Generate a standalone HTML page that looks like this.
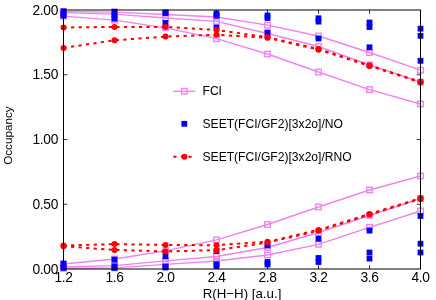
<!DOCTYPE html>
<html><head><meta charset="utf-8"><title>Occupancy</title>
<style>html,body{margin:0;padding:0;background:#fff;}body{width:436px;height:300px;position:relative;overflow:hidden;font-family:"Liberation Sans",sans-serif;}</style></head>
<body>
<svg width="436" height="300" viewBox="0 0 436 300" style="position:absolute;left:0;top:0;will-change:transform">
<rect width="436" height="300" fill="#fff"/>
<g stroke="#000" stroke-width="0.8" fill="none">
<line x1="114.5" y1="10.0" x2="114.5" y2="13.8"/>
<line x1="114.5" y1="269.0" x2="114.5" y2="265.2"/>
<line x1="165.5" y1="10.0" x2="165.5" y2="13.8"/>
<line x1="165.5" y1="269.0" x2="165.5" y2="265.2"/>
<line x1="216.5" y1="10.0" x2="216.5" y2="13.8"/>
<line x1="216.5" y1="269.0" x2="216.5" y2="265.2"/>
<line x1="267.5" y1="10.0" x2="267.5" y2="13.8"/>
<line x1="267.5" y1="269.0" x2="267.5" y2="265.2"/>
<line x1="318.5" y1="10.0" x2="318.5" y2="13.8"/>
<line x1="318.5" y1="269.0" x2="318.5" y2="265.2"/>
<line x1="369.5" y1="10.0" x2="369.5" y2="13.8"/>
<line x1="369.5" y1="269.0" x2="369.5" y2="265.2"/>
<line x1="63.5" y1="204.25" x2="67.3" y2="204.25"/>
<line x1="420.5" y1="204.25" x2="416.7" y2="204.25"/>
<line x1="63.5" y1="139.50" x2="67.3" y2="139.50"/>
<line x1="420.5" y1="139.50" x2="416.7" y2="139.50"/>
<line x1="63.5" y1="74.75" x2="67.3" y2="74.75"/>
<line x1="420.5" y1="74.75" x2="416.7" y2="74.75"/>
</g>
<polyline points="63.5,11.6 114.5,12.1 165.5,14.5 216.5,17 267.5,25.2 318.5,36 369.5,52.5 420.5,70.2" fill="none" stroke="#ee82ee" stroke-width="1.35"/>
<polyline points="63.5,12.7 114.5,14.2 165.5,18 216.5,21.3 267.5,33.5 318.5,46.5 369.5,65 420.5,82" fill="none" stroke="#ee82ee" stroke-width="1.35"/>
<polyline points="63.5,16.1 114.5,20.2 165.5,27.8 216.5,38.6 267.5,54 318.5,72 369.5,89.6 420.5,104" fill="none" stroke="#ee82ee" stroke-width="1.35"/>
<polyline points="63.5,264 114.5,259 165.5,250.8 216.5,239.9 267.5,224.5 318.5,207 369.5,190 420.5,176" fill="none" stroke="#ee82ee" stroke-width="1.35"/>
<polyline points="63.5,267 114.5,265.6 165.5,260.8 216.5,256.5 267.5,247.5 318.5,232.5 369.5,215.5 420.5,198.5" fill="none" stroke="#ee82ee" stroke-width="1.35"/>
<polyline points="63.5,268.3 114.5,267.8 165.5,264.3 216.5,261 267.5,255 318.5,244.3 369.5,227.3 420.5,211" fill="none" stroke="#ee82ee" stroke-width="1.35"/>
<rect x="60.75" y="8.85" width="5.5" height="5.5" fill="none" stroke="#ee82ee" stroke-width="1.35"/>
<rect x="111.75" y="9.35" width="5.5" height="5.5" fill="none" stroke="#ee82ee" stroke-width="1.35"/>
<rect x="162.75" y="11.75" width="5.5" height="5.5" fill="none" stroke="#ee82ee" stroke-width="1.35"/>
<rect x="213.75" y="14.25" width="5.5" height="5.5" fill="none" stroke="#ee82ee" stroke-width="1.35"/>
<rect x="264.75" y="22.45" width="5.5" height="5.5" fill="none" stroke="#ee82ee" stroke-width="1.35"/>
<rect x="315.75" y="33.25" width="5.5" height="5.5" fill="none" stroke="#ee82ee" stroke-width="1.35"/>
<rect x="366.75" y="49.75" width="5.5" height="5.5" fill="none" stroke="#ee82ee" stroke-width="1.35"/>
<rect x="417.75" y="67.45" width="5.5" height="5.5" fill="none" stroke="#ee82ee" stroke-width="1.35"/>
<rect x="60.75" y="9.95" width="5.5" height="5.5" fill="none" stroke="#ee82ee" stroke-width="1.35"/>
<rect x="111.75" y="11.45" width="5.5" height="5.5" fill="none" stroke="#ee82ee" stroke-width="1.35"/>
<rect x="162.75" y="15.25" width="5.5" height="5.5" fill="none" stroke="#ee82ee" stroke-width="1.35"/>
<rect x="213.75" y="18.55" width="5.5" height="5.5" fill="none" stroke="#ee82ee" stroke-width="1.35"/>
<rect x="264.75" y="30.75" width="5.5" height="5.5" fill="none" stroke="#ee82ee" stroke-width="1.35"/>
<rect x="315.75" y="43.75" width="5.5" height="5.5" fill="none" stroke="#ee82ee" stroke-width="1.35"/>
<rect x="366.75" y="62.25" width="5.5" height="5.5" fill="none" stroke="#ee82ee" stroke-width="1.35"/>
<rect x="417.75" y="79.25" width="5.5" height="5.5" fill="none" stroke="#ee82ee" stroke-width="1.35"/>
<rect x="60.75" y="13.35" width="5.5" height="5.5" fill="none" stroke="#ee82ee" stroke-width="1.35"/>
<rect x="111.75" y="17.45" width="5.5" height="5.5" fill="none" stroke="#ee82ee" stroke-width="1.35"/>
<rect x="162.75" y="25.05" width="5.5" height="5.5" fill="none" stroke="#ee82ee" stroke-width="1.35"/>
<rect x="213.75" y="35.85" width="5.5" height="5.5" fill="none" stroke="#ee82ee" stroke-width="1.35"/>
<rect x="264.75" y="51.25" width="5.5" height="5.5" fill="none" stroke="#ee82ee" stroke-width="1.35"/>
<rect x="315.75" y="69.25" width="5.5" height="5.5" fill="none" stroke="#ee82ee" stroke-width="1.35"/>
<rect x="366.75" y="86.85" width="5.5" height="5.5" fill="none" stroke="#ee82ee" stroke-width="1.35"/>
<rect x="417.75" y="101.25" width="5.5" height="5.5" fill="none" stroke="#ee82ee" stroke-width="1.35"/>
<rect x="60.75" y="261.25" width="5.5" height="5.5" fill="none" stroke="#ee82ee" stroke-width="1.35"/>
<rect x="111.75" y="256.25" width="5.5" height="5.5" fill="none" stroke="#ee82ee" stroke-width="1.35"/>
<rect x="162.75" y="248.05" width="5.5" height="5.5" fill="none" stroke="#ee82ee" stroke-width="1.35"/>
<rect x="213.75" y="237.15" width="5.5" height="5.5" fill="none" stroke="#ee82ee" stroke-width="1.35"/>
<rect x="264.75" y="221.75" width="5.5" height="5.5" fill="none" stroke="#ee82ee" stroke-width="1.35"/>
<rect x="315.75" y="204.25" width="5.5" height="5.5" fill="none" stroke="#ee82ee" stroke-width="1.35"/>
<rect x="366.75" y="187.25" width="5.5" height="5.5" fill="none" stroke="#ee82ee" stroke-width="1.35"/>
<rect x="417.75" y="173.25" width="5.5" height="5.5" fill="none" stroke="#ee82ee" stroke-width="1.35"/>
<rect x="60.75" y="264.25" width="5.5" height="5.5" fill="none" stroke="#ee82ee" stroke-width="1.35"/>
<rect x="111.75" y="262.85" width="5.5" height="5.5" fill="none" stroke="#ee82ee" stroke-width="1.35"/>
<rect x="162.75" y="258.05" width="5.5" height="5.5" fill="none" stroke="#ee82ee" stroke-width="1.35"/>
<rect x="213.75" y="253.75" width="5.5" height="5.5" fill="none" stroke="#ee82ee" stroke-width="1.35"/>
<rect x="264.75" y="244.75" width="5.5" height="5.5" fill="none" stroke="#ee82ee" stroke-width="1.35"/>
<rect x="315.75" y="229.75" width="5.5" height="5.5" fill="none" stroke="#ee82ee" stroke-width="1.35"/>
<rect x="366.75" y="212.75" width="5.5" height="5.5" fill="none" stroke="#ee82ee" stroke-width="1.35"/>
<rect x="417.75" y="195.75" width="5.5" height="5.5" fill="none" stroke="#ee82ee" stroke-width="1.35"/>
<rect x="60.75" y="265.55" width="5.5" height="5.5" fill="none" stroke="#ee82ee" stroke-width="1.35"/>
<rect x="111.75" y="265.05" width="5.5" height="5.5" fill="none" stroke="#ee82ee" stroke-width="1.35"/>
<rect x="162.75" y="261.55" width="5.5" height="5.5" fill="none" stroke="#ee82ee" stroke-width="1.35"/>
<rect x="213.75" y="258.25" width="5.5" height="5.5" fill="none" stroke="#ee82ee" stroke-width="1.35"/>
<rect x="264.75" y="252.25" width="5.5" height="5.5" fill="none" stroke="#ee82ee" stroke-width="1.35"/>
<rect x="315.75" y="241.55" width="5.5" height="5.5" fill="none" stroke="#ee82ee" stroke-width="1.35"/>
<rect x="366.75" y="224.55" width="5.5" height="5.5" fill="none" stroke="#ee82ee" stroke-width="1.35"/>
<rect x="417.75" y="208.25" width="5.5" height="5.5" fill="none" stroke="#ee82ee" stroke-width="1.35"/>
<rect x="60.6" y="8.40" width="5.8" height="5.8" fill="#0000ff"/>
<rect x="60.6" y="10.60" width="5.8" height="5.8" fill="#0000ff"/>
<rect x="60.6" y="12.70" width="5.8" height="5.8" fill="#0000ff"/>
<rect x="111.6" y="8.80" width="5.8" height="5.8" fill="#0000ff"/>
<rect x="111.6" y="12.10" width="5.8" height="5.8" fill="#0000ff"/>
<rect x="111.6" y="15.80" width="5.8" height="5.8" fill="#0000ff"/>
<rect x="162.6" y="9.50" width="5.8" height="5.8" fill="#0000ff"/>
<rect x="162.6" y="10.30" width="5.8" height="5.8" fill="#0000ff"/>
<rect x="162.6" y="20.00" width="5.8" height="5.8" fill="#0000ff"/>
<rect x="213.6" y="10.50" width="5.8" height="5.8" fill="#0000ff"/>
<rect x="213.6" y="12.70" width="5.8" height="5.8" fill="#0000ff"/>
<rect x="213.6" y="24.60" width="5.8" height="5.8" fill="#0000ff"/>
<rect x="264.6" y="12.60" width="5.8" height="5.8" fill="#0000ff"/>
<rect x="264.6" y="15.10" width="5.8" height="5.8" fill="#0000ff"/>
<rect x="264.6" y="29.60" width="5.8" height="5.8" fill="#0000ff"/>
<rect x="315.6" y="15.40" width="5.8" height="5.8" fill="#0000ff"/>
<rect x="315.6" y="18.70" width="5.8" height="5.8" fill="#0000ff"/>
<rect x="315.6" y="35.60" width="5.8" height="5.8" fill="#0000ff"/>
<rect x="366.6" y="19.60" width="5.8" height="5.8" fill="#0000ff"/>
<rect x="366.6" y="24.10" width="5.8" height="5.8" fill="#0000ff"/>
<rect x="366.6" y="44.40" width="5.8" height="5.8" fill="#0000ff"/>
<rect x="417.6" y="25.80" width="5.8" height="5.8" fill="#0000ff"/>
<rect x="417.6" y="32.90" width="5.8" height="5.8" fill="#0000ff"/>
<rect x="417.6" y="57.90" width="5.8" height="5.8" fill="#0000ff"/>
<rect x="60.6" y="260.70" width="5.8" height="5.8" fill="#0000ff"/>
<rect x="60.6" y="263.60" width="5.8" height="5.8" fill="#0000ff"/>
<rect x="60.6" y="265.00" width="5.8" height="5.8" fill="#0000ff"/>
<rect x="111.6" y="256.70" width="5.8" height="5.8" fill="#0000ff"/>
<rect x="111.6" y="263.40" width="5.8" height="5.8" fill="#0000ff"/>
<rect x="111.6" y="265.00" width="5.8" height="5.8" fill="#0000ff"/>
<rect x="162.6" y="253.50" width="5.8" height="5.8" fill="#0000ff"/>
<rect x="162.6" y="263.70" width="5.8" height="5.8" fill="#0000ff"/>
<rect x="162.6" y="264.60" width="5.8" height="5.8" fill="#0000ff"/>
<rect x="213.6" y="248.10" width="5.8" height="5.8" fill="#0000ff"/>
<rect x="213.6" y="261.30" width="5.8" height="5.8" fill="#0000ff"/>
<rect x="213.6" y="263.10" width="5.8" height="5.8" fill="#0000ff"/>
<rect x="264.6" y="242.60" width="5.8" height="5.8" fill="#0000ff"/>
<rect x="264.6" y="259.10" width="5.8" height="5.8" fill="#0000ff"/>
<rect x="264.6" y="261.60" width="5.8" height="5.8" fill="#0000ff"/>
<rect x="315.6" y="235.80" width="5.8" height="5.8" fill="#0000ff"/>
<rect x="315.6" y="255.10" width="5.8" height="5.8" fill="#0000ff"/>
<rect x="315.6" y="259.10" width="5.8" height="5.8" fill="#0000ff"/>
<rect x="366.6" y="227.70" width="5.8" height="5.8" fill="#0000ff"/>
<rect x="366.6" y="249.60" width="5.8" height="5.8" fill="#0000ff"/>
<rect x="366.6" y="255.70" width="5.8" height="5.8" fill="#0000ff"/>
<rect x="417.6" y="213.10" width="5.8" height="5.8" fill="#0000ff"/>
<rect x="417.6" y="240.80" width="5.8" height="5.8" fill="#0000ff"/>
<rect x="417.6" y="249.60" width="5.8" height="5.8" fill="#0000ff"/>
<polyline points="63.5,27.5 114.5,26.9 165.5,26.9 216.5,30 267.5,37.2 318.5,49.0 369.5,65.3 420.5,81.8" fill="none" stroke="#ff0000" stroke-width="2" stroke-dasharray="3.2 4.35"/>
<polyline points="63.5,47.9 114.5,40.3 165.5,36.6 216.5,34.7 267.5,37.8 318.5,49.7 369.5,65.9 420.5,82.4" fill="none" stroke="#ff0000" stroke-width="2" stroke-dasharray="3.2 4.35"/>
<polyline points="63.5,245.5 114.5,244.1 165.5,245 216.5,245.2 267.5,241.8 318.5,229.9 369.5,213.9 420.5,198.1" fill="none" stroke="#ff0000" stroke-width="2" stroke-dasharray="3.2 4.35"/>
<polyline points="63.5,246.3 114.5,249.9 165.5,251.4 216.5,250.2 267.5,242.6 318.5,230.7 369.5,214.7 420.5,198.9" fill="none" stroke="#ff0000" stroke-width="2" stroke-dasharray="3.2 4.35"/>
<circle cx="63.5" cy="27.5" r="3.0" fill="#ff0000"/>
<circle cx="114.5" cy="26.9" r="3.0" fill="#ff0000"/>
<circle cx="165.5" cy="26.9" r="3.0" fill="#ff0000"/>
<circle cx="216.5" cy="30" r="3.0" fill="#ff0000"/>
<circle cx="267.5" cy="37.2" r="3.0" fill="#ff0000"/>
<circle cx="318.5" cy="49.0" r="3.0" fill="#ff0000"/>
<circle cx="369.5" cy="65.3" r="3.0" fill="#ff0000"/>
<circle cx="420.5" cy="81.8" r="3.0" fill="#ff0000"/>
<circle cx="63.5" cy="47.9" r="3.0" fill="#ff0000"/>
<circle cx="114.5" cy="40.3" r="3.0" fill="#ff0000"/>
<circle cx="165.5" cy="36.6" r="3.0" fill="#ff0000"/>
<circle cx="216.5" cy="34.7" r="3.0" fill="#ff0000"/>
<circle cx="267.5" cy="37.8" r="3.0" fill="#ff0000"/>
<circle cx="318.5" cy="49.7" r="3.0" fill="#ff0000"/>
<circle cx="369.5" cy="65.9" r="3.0" fill="#ff0000"/>
<circle cx="420.5" cy="82.4" r="3.0" fill="#ff0000"/>
<circle cx="63.5" cy="245.5" r="3.0" fill="#ff0000"/>
<circle cx="114.5" cy="244.1" r="3.0" fill="#ff0000"/>
<circle cx="165.5" cy="245" r="3.0" fill="#ff0000"/>
<circle cx="216.5" cy="245.2" r="3.0" fill="#ff0000"/>
<circle cx="267.5" cy="241.8" r="3.0" fill="#ff0000"/>
<circle cx="318.5" cy="229.9" r="3.0" fill="#ff0000"/>
<circle cx="369.5" cy="213.9" r="3.0" fill="#ff0000"/>
<circle cx="420.5" cy="198.1" r="3.0" fill="#ff0000"/>
<circle cx="63.5" cy="246.3" r="3.0" fill="#ff0000"/>
<circle cx="114.5" cy="249.9" r="3.0" fill="#ff0000"/>
<circle cx="165.5" cy="251.4" r="3.0" fill="#ff0000"/>
<circle cx="216.5" cy="250.2" r="3.0" fill="#ff0000"/>
<circle cx="267.5" cy="242.6" r="3.0" fill="#ff0000"/>
<circle cx="318.5" cy="230.7" r="3.0" fill="#ff0000"/>
<circle cx="369.5" cy="214.7" r="3.0" fill="#ff0000"/>
<circle cx="420.5" cy="198.9" r="3.0" fill="#ff0000"/>
<g stroke="#000" stroke-width="1" fill="none">
<line x1="63.5" y1="10.0" x2="63.5" y2="269.0"/>
<line x1="420.5" y1="10.0" x2="420.5" y2="269.0"/>
<line x1="63.0" y1="10.0" x2="421.0" y2="10.0"/>
<line x1="63.0" y1="269.0" x2="421.0" y2="269.0"/>
</g>
<line x1="173.2" y1="91.2" x2="195.2" y2="91.2" stroke="#ee82ee" stroke-width="1.35"/>
<rect x="181.6" y="88.5" width="5.5" height="5.5" fill="none" stroke="#ee82ee" stroke-width="1.35"/>
<rect x="181.4" y="120.89999999999999" width="5.8" height="5.8" fill="#0000ff"/>
<line x1="173.3" y1="156.8" x2="195.4" y2="156.8" stroke="#ff0000" stroke-width="2" stroke-dasharray="3.2 4.35"/>
<circle cx="184.4" cy="156.8" r="3.0" fill="#ff0000"/>
<g font-family="Liberation Sans, sans-serif" fill="#000">
<g font-size="12.1px">
<text x="202.5" y="95.1">FCI</text>
<text x="202.5" y="128">SEET(FCI/GF2)[3x2o]/NO</text>
<text x="202.5" y="161">SEET(FCI/GF2)[3x2o]/RNO</text>
</g>
<g font-size="13.8px" letter-spacing="-0.35" text-anchor="end">
<text x="58" y="273.60">0.00</text>
<text x="58" y="208.85">0.50</text>
<text x="58" y="144.10">1.00</text>
<text x="58" y="79.35">1.50</text>
<text x="58" y="14.60">2.00</text>
</g>
<g font-size="13.8px" letter-spacing="-0.35" text-anchor="middle">
<text x="63.6" y="281.6">1.2</text>
<text x="114.6" y="281.6">1.6</text>
<text x="165.6" y="281.6">2.0</text>
<text x="216.6" y="281.6">2.4</text>
<text x="267.6" y="281.6">2.8</text>
<text x="318.6" y="281.6">3.2</text>
<text x="369.6" y="281.6">3.6</text>
<text x="420.6" y="281.6">4.0</text>
<text x="242" y="298.3" font-size="13.3px" letter-spacing="0">R(H−H) [a.u.]</text>
</g>
<text font-size="11.7px" text-anchor="middle" transform="translate(12.3,135.6) rotate(-90)">Occupancy</text>
</g>
</svg>
</body></html>
